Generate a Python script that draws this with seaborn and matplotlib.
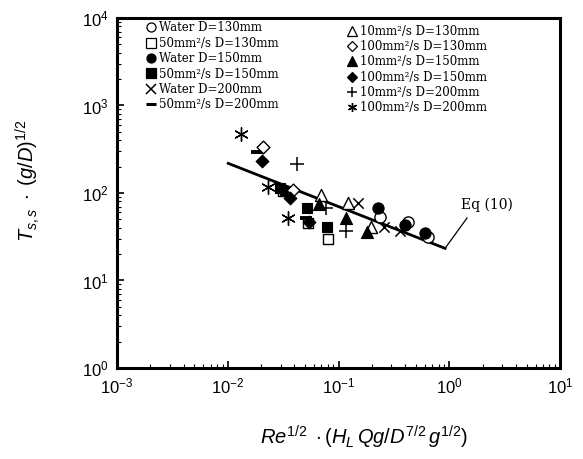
import matplotlib
matplotlib.use("Agg")
import matplotlib.pyplot as plt
import seaborn as sns
import pandas as pd
from matplotlib.lines import Line2D
from matplotlib.ticker import LogLocator, NullFormatter

# ---------------- data ----------------
labels = ["Water D=130mm", "50mm²/s D=130mm", "Water D=150mm", "50mm²/s D=150mm",
          "Water D=200mm", "50mm²/s D=200mm",
          "10mm²/s D=130mm", "100mm²/s D=130mm", "10mm²/s D=150mm", "100mm²/s D=150mm",
          "10mm²/s D=200mm", "100mm²/s D=200mm"]

water130_x = [0.237, 0.425, 0.647]
water130_y = [53.6, 47.0, 31.7]
oil50_130_x = [0.0809, 0.0533, 0.0316]
oil50_130_y = [30.0, 45.0, 105.0]
water150_x = [0.229, 0.398, 0.604]
water150_y = [66.8, 43.1, 34.6]
oil50_150_x = [0.0297, 0.0329, 0.0516, 0.0782]
oil50_150_y = [113.0, 105.0, 66.8, 41.2]
water200_x = [0.1485, 0.259, 0.359]
water200_y = [76.3, 40.4, 36.8]
oil50_200_x = [0.0182, 0.0509]
oil50_200_y = [296.0, 51.8]
oil10_130_x = [0.069, 0.1225, 0.196]
oil10_130_y = [95.0, 75.9, 40.9]
oil100_130_x = [0.0210, 0.0385]
oil100_130_y = [336.0, 108.0]
oil10_150_x = [0.0667, 0.117, 0.181]
oil10_150_y = [74.8, 51.4, 36.1]
oil100_150_x = [0.0203, 0.0365, 0.0542]
oil100_150_y = [232.0, 86.9, 46.6]
oil10_200_x = [0.0422, 0.077, 0.1156]
oil10_200_y = [212.0, 67.4, 36.8]
oil100_200_x = [0.01303, 0.0229, 0.0352]
oil100_200_y = [467.0, 116.0, 51.4]

eq10_x = [0.0101, 0.915]
eq10_y = [218.0, 23.3]

series_x = [water130_x, oil50_130_x, water150_x, oil50_150_x, water200_x, oil50_200_x,
            oil10_130_x, oil100_130_x, oil10_150_x, oil100_150_x, oil10_200_x, oil100_200_x]
series_y = [water130_y, oil50_130_y, water150_y, oil50_150_y, water200_y, oil50_200_y,
            oil10_130_y, oil100_130_y, oil10_150_y, oil100_150_y, oil10_200_y, oil100_200_y]

# marker styles: (marker, filled, size, linewidth)
styles = [("o", False, 65, 1.0), ("s", False, 62, 1.0), ("o", True, 65, 0.8), ("s", True, 62, 0.8),
          ("x", None, 55, 1.1), ("_", None, 80, 2.8),
          ("^", False, 75, 1.0), ("D", False, 42, 1.0), ("^", True, 75, 0.8), ("D", True, 42, 0.8),
          ("+", None, 90, 1.1), ((6, 2, 0), None, 95, 1.0)]

# ---------------- figure ----------------
plt.rcParams['mathtext.fontset'] = 'custom'
plt.rcParams['mathtext.rm'] = 'Liberation Sans'
plt.rcParams['mathtext.it'] = 'Liberation Sans:italic'
plt.rcParams['mathtext.bf'] = 'Liberation Sans:bold'
plt.rcParams['font.family'] = ['Liberation Sans', 'DejaVu Sans']

fig = plt.figure(figsize=(5.83, 4.59), dpi=100)
ax = fig.add_axes([0.2007, 0.1983, 0.760, 0.7625])

for xs, ys, (mk, filled, sz, lw) in zip(series_x, series_y, styles):
    df = pd.DataFrame({"x": xs, "y": ys})
    if filled is None:
        sns.scatterplot(data=df, x="x", y="y", marker=mk, s=sz, color="black",
                        linewidth=lw, ax=ax, zorder=3)
    elif filled:
        sns.scatterplot(data=df, x="x", y="y", marker=mk, s=sz, facecolor="black",
                        edgecolor="black", linewidth=lw, ax=ax, zorder=3)
    else:
        sns.scatterplot(data=df, x="x", y="y", marker=mk, s=sz, facecolor="white",
                        edgecolor="black", linewidth=lw, ax=ax, zorder=3)

sns.lineplot(x=eq10_x, y=eq10_y, color="black", linewidth=2.0, ax=ax, zorder=2)
ax.plot([eq10_x[1], 1.445], [eq10_y[1], 51.8], color="black", linewidth=0.9)
ax.text(1.28, 73, "Eq (10)", family="DejaVu Serif", fontsize=10, ha="left", va="center")

ax.set_xscale("log")
ax.set_yscale("log")
ax.set_xlim(1e-3, 1e1)
ax.set_ylim(1e0, 1e4)

ax.xaxis.set_minor_locator(LogLocator(base=10, subs=range(2, 10), numticks=50))
ax.yaxis.set_minor_locator(LogLocator(base=10, subs=range(2, 10), numticks=50))
ax.xaxis.set_minor_formatter(NullFormatter())
ax.yaxis.set_minor_formatter(NullFormatter())
ax.tick_params(which="major", direction="in", length=5, width=1.2, labelsize=12, pad=6)
ax.tick_params(which="minor", direction="in", length=3, width=0.8)
for sp in ax.spines.values():
    sp.set_linewidth(2.2)

ax.set_xlabel(r"$Re^{1/2}\ \cdot(H_L\,Qg/D^{7/2}\,g^{1/2})$", fontsize=14.5)
ax.set_ylabel(r"$T_{s,s}\ \cdot\ (g/D)^{1/2}$", fontsize=14.5)
ax.xaxis.set_label_coords(0.558, -0.16)
ax.yaxis.set_label_coords(-0.17, 0.535)

# legend
handles = []
for (mk, filled, sz, lw) in styles:
    if filled is None:
        h = Line2D([], [], marker=mk, linestyle="none", color="black",
                   markersize=6.5, markeredgewidth=min(lw, 2.2))
    else:
        h = Line2D([], [], marker=mk, linestyle="none", markeredgecolor="black",
                   markerfacecolor="black" if filled else "white",
                   markersize=6.5 if mk != "D" else 5.2, markeredgewidth=0.9)
    handles.append(h)

leg_kw = dict(frameon=False, handlelength=0.8, handletextpad=0.25,
              labelspacing=0.2, borderpad=0, borderaxespad=0, loc="upper left",
              prop={"family": "DejaVu Serif", "size": 8.5})
leg1 = ax.legend(handles[:6], labels[:6], bbox_to_anchor=(0.066, 0.99), **leg_kw)
ax.add_artist(leg1)
ax.legend(handles[6:], labels[6:], bbox_to_anchor=(0.52, 0.981), **leg_kw)

fig.savefig("out.png", dpi=100)
